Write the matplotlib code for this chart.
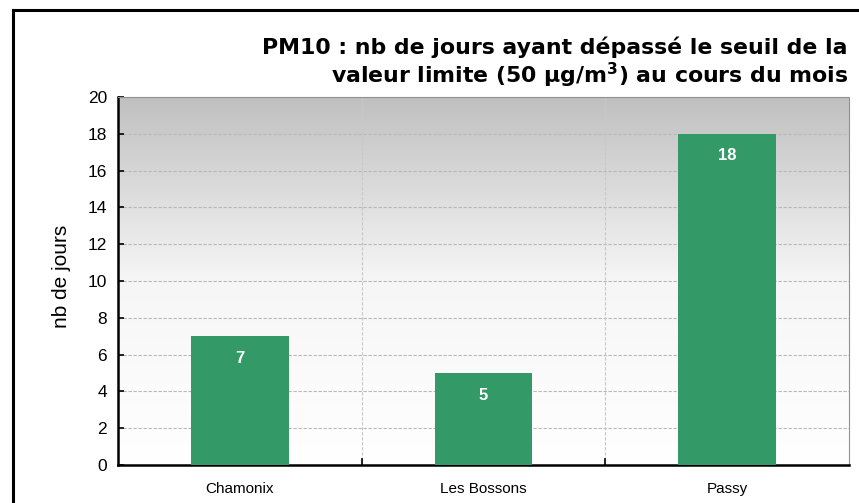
import matplotlib
matplotlib.use("Agg")
import matplotlib.pyplot as plt
import numpy as np
from matplotlib.lines import Line2D
from matplotlib.colors import LinearSegmentedColormap

categories = ["Chamonix", "Les Bossons", "Passy"]
values = [7, 5, 18]
yticks = [0, 2, 4, 6, 8, 10, 12, 14, 16, 18, 20]

W, H = 859, 503
fig = plt.figure(figsize=(W / 100, H / 100), dpi=100)
fig.patch.set_facecolor("white")

# outer frame (left and top edges visible)
fig.add_artist(Line2D([13 / W, 13 / W], [0, 1 - 10 / H], color="black", lw=2.2, transform=fig.transFigure))
fig.add_artist(Line2D([13 / W, 1], [1 - 10 / H, 1 - 10 / H], color="black", lw=2.2, transform=fig.transFigure))

ax = fig.add_axes([118 / W, 1 - 465 / H, (849 - 118) / W, (465 - 97) / H])

# gradient background
grad = np.linspace(1, 0, 256).reshape(-1, 1)
cmap = LinearSegmentedColormap.from_list("g", ["#ffffff", "#f6f6f6", "#c0c0c0"])
ax.imshow(grad, extent=[-0.5, 2.5, 0, 20], aspect="auto", cmap=cmap, origin="upper", zorder=0, vmin=0, vmax=1)

x = np.arange(len(categories))
ax.bar(x, values, width=0.4, color="#339966", zorder=3)
for xi, v in zip(x, values):
    ax.text(xi, v - 1.2, str(v), ha="center", va="center", color="white",
            fontsize=12, fontweight="bold", family="Liberation Sans", zorder=4)

ax.set_xlim(-0.5, 2.5)
ax.set_ylim(0, 20)
ax.set_yticks(yticks)
ax.set_yticklabels([str(t) for t in yticks], fontsize=12.5, family="Liberation Sans")
ax.set_xticks(x)
ax.set_xticklabels(categories, fontsize=11, family="Liberation Sans")
ax.tick_params(axis="x", length=0, pad=12)
ax.tick_params(axis="y", length=4, width=1.2, direction="in", pad=8)

for yv in yticks[1:]:
    ax.axhline(yv, color="#b8b8b8", lw=0.8, ls=(0, (3, 1.5)), zorder=1)
for xv in [0.5, 1.5]:
    ax.axvline(xv, color="#c8c8c8", lw=0.8, ls=(0, (3, 1.5)), zorder=1)
    ax.plot([xv, xv], [0, 0.35], color="black", lw=1.2, zorder=5, clip_on=False)

ax.spines["left"].set_linewidth(1.8)
ax.spines["bottom"].set_linewidth(1.8)
for s in ["top", "right"]:
    ax.spines[s].set_color("#909090")
    ax.spines[s].set_linewidth(0.8)
    ax.spines[s].set_linestyle((0, (1, 1)))

ax.set_ylabel("nb de jours", fontsize=15, family="Liberation Sans")
ax.yaxis.set_label_coords((71 - 118) / (849 - 118), (465 - 276) / (465 - 97))

fig.text(848 / W, 1 - 47 / H, "PM10 : nb de jours ayant dépassé le seuil de la",
         ha="right", va="center", fontsize=15.8, fontweight="bold", family="DejaVu Sans")
fig.text(848 / W, 1 - 75 / H, r"valeur limite (50 µg/m$^\mathbf{3}$) au cours du mois",
         ha="right", va="center", fontsize=15.8, fontweight="bold", family="DejaVu Sans")

fig.savefig("out.png", dpi=100)
